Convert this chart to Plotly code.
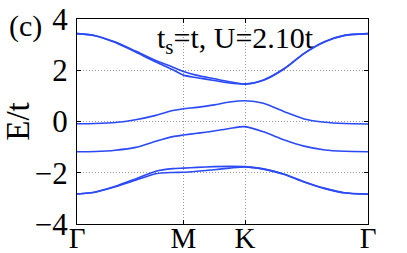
import plotly.graph_objects as go

# k-path segment lengths (hexagonal BZ: Γ-M, M-K, K-Γ)
seg_lengths = [0.866, 0.5, 1.0]
tick_labels = ["Γ", "M", "K", "Γ"]

# sample fractions along each segment
frac_GM = [0, 0.17, 0.36, 0.55, 0.74, 0.9, 1.0]
frac_MK = [0, 0.22, 0.5, 0.75, 1.0]
frac_KG = [0, 0.15, 0.32, 0.48, 0.65, 0.81, 1.0]

band1_GM = [3.43, 3.35, 3.10, 2.75, 2.38, 2.12, 1.95]
band1_MK = [1.95, 1.80, 1.67, 1.55, 1.46]
band1_KG = [1.46, 1.62, 2.07, 2.66, 3.12, 3.36, 3.43]

band2_GM = [3.43, 3.35, 3.08, 2.71, 2.32, 2.02, 1.81]
band2_MK = [1.81, 1.71, 1.60, 1.50, 1.46]
band2_KG = [1.46, 1.61, 2.06, 2.65, 3.11, 3.36, 3.43]

band3_GM = [-0.09, -0.08, -0.04, 0.07, 0.24, 0.43, 0.50]
band3_MK = [0.50, 0.55, 0.65, 0.76, 0.81]
band3_KG = [0.81, 0.71, 0.38, 0.10, -0.03, -0.08, -0.10]

band4_GM = [-1.18, -1.17, -1.12, -1.01, -0.77, -0.59, -0.53]
band4_MK = [-0.53, -0.46, -0.37, -0.27, -0.20]
band4_KG = [-0.20, -0.40, -0.72, -0.96, -1.11, -1.16, -1.18]

band5_GM = [-2.83, -2.75, -2.53, -2.24, -1.94, -1.84, -1.82]
band5_MK = [-1.82, -1.79, -1.76, -1.75, -1.76]
band5_KG = [-1.76, -1.85, -2.06, -2.35, -2.61, -2.78, -2.83]

band6_GM = [-2.83, -2.76, -2.55, -2.29, -2.04, -1.99, -1.98]
band6_MK = [-1.98, -1.94, -1.88, -1.82, -1.77]
band6_KG = [-1.77, -1.86, -2.07, -2.36, -2.62, -2.79, -2.84]

bands = [
    (band1_GM, band1_MK, band1_KG),
    (band2_GM, band2_MK, band2_KG),
    (band3_GM, band3_MK, band3_KG),
    (band4_GM, band4_MK, band4_KG),
    (band5_GM, band5_MK, band5_KG),
    (band6_GM, band6_MK, band6_KG),
]

# tick positions along the path
tick_pos = [0.0]
for L in seg_lengths:
    tick_pos.append(tick_pos[-1] + L)

fracs = [frac_GM, frac_MK, frac_KG]
xs = []
for i, fr in enumerate(fracs):
    pts = [tick_pos[i] + f * seg_lengths[i] for f in fr]
    xs.extend(pts if i == 0 else pts[1:])

fig = go.Figure()
for segs in bands:
    ys = []
    for i, s in enumerate(segs):
        ys.extend(s if i == 0 else s[1:])
    fig.add_trace(go.Scatter(
        x=xs, y=ys, mode="lines",
        line=dict(color="#2b4af5", width=1.6, shape="spline", smoothing=0.7),
        showlegend=False, hoverinfo="skip",
    ))

FF = "Liberation Serif"

fig.update_layout(
    width=407, height=253,
    margin=dict(l=77, r=39, t=19, b=29, autoexpand=False),
    paper_bgcolor="white", plot_bgcolor="white",
    font=dict(family=FF, size=28, color="black"),
)
fig.update_xaxes(
    range=[tick_pos[0], tick_pos[-1]], automargin=False,
    tickmode="array", tickvals=tick_pos, ticktext=tick_labels,
    showline=True, linecolor="black", linewidth=1, mirror="ticks",
    ticks="inside", ticklen=4, tickcolor="black",
    showgrid=True, gridcolor="#999999", griddash="1px,2px", gridwidth=1,
    zeroline=False, ticklabelstandoff=-12,
    tickfont=dict(family=FF, size=29, color="black"),
)
fig.update_yaxes(
    range=[-4, 4], automargin=False,
    tickmode="array", tickvals=[-4, -2, 0, 2, 4],
    ticktext=["−4", "−2", "0", "2", "4"],
    showline=True, linecolor="black", linewidth=1, mirror="ticks",
    ticks="inside", ticklen=4, tickcolor="black",
    showgrid=True, gridcolor="#999999", griddash="1px,2px", gridwidth=1,
    zeroline=False, ticklabelstandoff=2,
    tickfont=dict(family=FF, size=31, color="black"),
    title=dict(text="E/t", font=dict(family=FF, size=33, color="black"), standoff=6),
)
fig.add_annotation(
    text="(c)", xref="paper", yref="paper", x=-0.24, y=0.965,
    xanchor="left", yanchor="middle", showarrow=False,
    font=dict(family=FF, size=30, color="black"),
)
fig.add_annotation(
    text="t<sub>s</sub>=t, U=2.10t", xref="paper", yref="paper", x=0.545, y=0.9,
    xanchor="center", yanchor="middle", showarrow=False,
    font=dict(family=FF, size=30, color="black"),
)

fig.write_html("out.html", config={"displayModeBar": False},
               post_script="document.body.style.margin='0px';")
